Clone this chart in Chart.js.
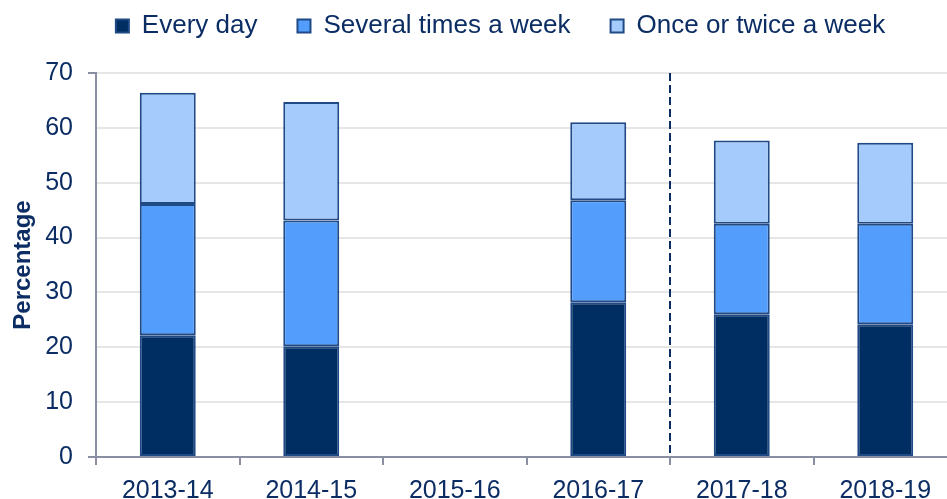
<!DOCTYPE html>
<html>
<head>
<meta charset="utf-8">
<script src="https://cdn.jsdelivr.net/npm/chart.js@4.4.1/dist/chart.umd.min.js"></script>
<style>
  html, body { margin: 0; padding: 0; background: #fff; overflow: hidden; }
  #wrap { width: 957px; height: 499px; }
</style>
</head>
<body>
<div id="wrap"><canvas id="myChart" width="957" height="499"></canvas></div>
<script>
// categories and series (percent)
var years = ['2013-14', '2014-15', '2015-16', '2016-17', '2017-18', '2018-19']
var everyDay = [22.2, 20.2, null, 28.2, 26.0, 24.2]
var severalTimes = [23.9, 22.9, null, 18.6, 16.5, 18.3]
var onceOrTwice = [20.3, 21.6, null, 14.2, 15.2, 14.8]
var yTicks = [0, 10, 20, 30, 40, 50, 60, 70]

var navy = '#0b2d64'
var font = 'Arial, "Liberation Sans", sans-serif'

// dashed line between 2016-17 and 2017-18
const breakLine = {
    id: 'breakLine',
    afterDatasetsDraw(chart) {
        const x = chart.scales.x, y = chart.scales.y
        const px = (x.getPixelForValue(3) + x.getPixelForValue(4)) / 2
        const ctx = chart.ctx
        ctx.save()
        ctx.strokeStyle = '#0b2d64'
        ctx.lineWidth = 2
        ctx.setLineDash([8, 4])
        ctx.beginPath()
        ctx.moveTo(px, y.getPixelForValue(70))
        ctx.lineTo(px, y.getPixelForValue(0))
        ctx.stroke()
        ctx.restore()
    }
}

// fixed legend height, then nudge the legend to where it sits in the original
const legendPlace = {
    id: 'legendPlace',
    beforeInit(chart) {
        const fit = chart.legend.fit
        chart.legend.fit = function () {
            fit.bind(chart.legend)()
            this.height = 73
        }
    },
    afterLayout(chart) {
        chart.legend.left += 22
        chart.legend.right += 22
        chart.legend.top -= 27
    }
}

function ds(label, data, color) {
    return {
        label: label,
        data: data,
        backgroundColor: color,
        borderColor: '#1f4a86',
        borderWidth: 2,
        borderSkipped: false,
        barPercentage: 0.78,
        categoryPercentage: 0.5
    }
}

new Chart(document.getElementById('myChart'), {
    type: 'bar',
    data: {
        labels: years,
        datasets: [
            ds('Every day', everyDay, '#002d62'),
            ds('Several times a week', severalTimes, '#539dfd'),
            ds('Once or twice a week', onceOrTwice, '#a5cbfd')
        ]
    },
    options: {
        responsive: false,
        animation: false,
        layout: { padding: 0 },
        plugins: {
            tooltip: { enabled: false },
            legend: {
                position: 'top',
                labels: {
                    color: navy,
                    font: { family: font, size: 26 },
                    boxWidth: 13,
                    boxHeight: 13,
                    padding: 40,
                    useBorderRadius: false
                }
            }
        },
        scales: {
            x: {
                stacked: true,
                afterFit(s) { s.height = 42 },
                grid: {
                    offset: true,
                    drawOnChartArea: false,
                    color: '#8a8ea3',
                    tickLength: 8,
                    lineWidth: 2
                },
                border: { color: '#8a8ea3', width: 2 },
                ticks: {
                    color: navy,
                    font: { family: font, size: 25 },
                    padding: 11,
                    maxRotation: 0
                }
            },
            y: {
                stacked: true,
                min: 0,
                max: 70,
                afterBuildTicks(s) { s.ticks = yTicks.map(v => ({ value: v })) },
                afterFit(s) { s.width = 96 },
                grid: {
                    color: '#e6e6e6',
                    lineWidth: 2,
                    tickLength: 8,
                    tickColor: ctx => (ctx.index === 0 || ctx.index === yTicks.length - 1) ? '#8a8ea3' : 'rgba(0,0,0,0)'
                },
                border: { color: '#8a8ea3', width: 2 },
                ticks: {
                    color: navy,
                    font: { family: font, size: 25 },
                    padding: 15
                },
                title: {
                    display: true,
                    text: 'Percentage',
                    color: navy,
                    font: { family: font, size: 24, weight: 'bold' },
                    padding: { top: 9, bottom: 0 }
                }
            }
        }
    },
    plugins: [breakLine, legendPlace]
})
</script>
</body>
</html>
